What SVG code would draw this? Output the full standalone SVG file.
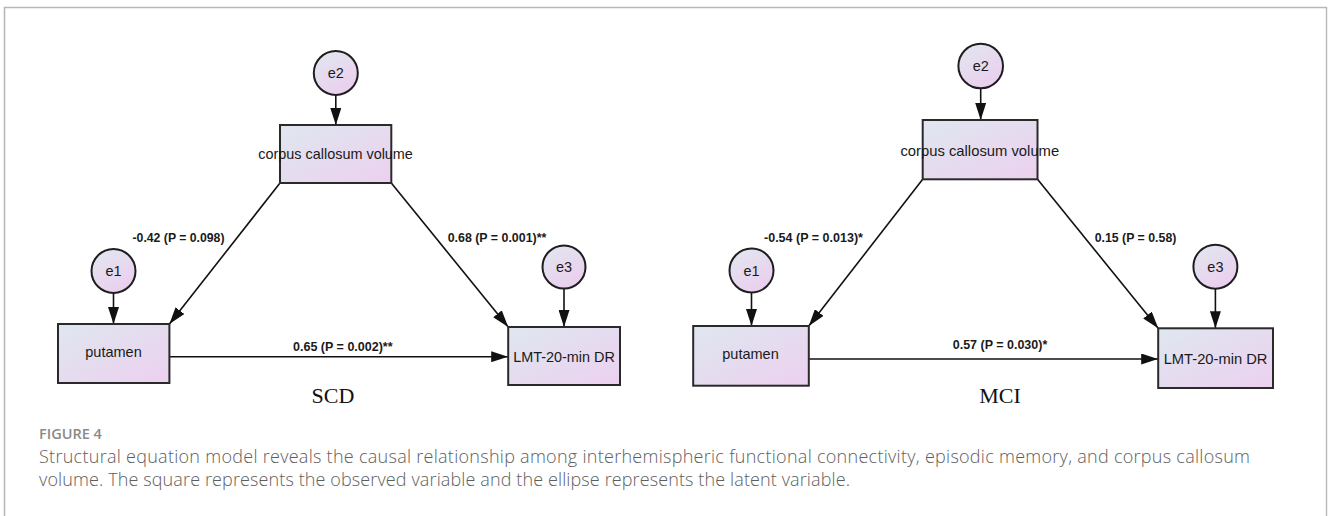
<svg xmlns="http://www.w3.org/2000/svg" width="1328" height="516" viewBox="0 0 1328 516">
  <defs>
    <linearGradient id="fillBox" x1="0" y1="0" x2="1" y2="1">
      <stop offset="0" stop-color="#dfe7ef"/>
      <stop offset="1" stop-color="#ecd0ef"/>
    </linearGradient>
    <linearGradient id="fillCircle" x1="0.2" y1="0" x2="0.8" y2="1">
      <stop offset="0" stop-color="#e2e6ef"/>
      <stop offset="1" stop-color="#ebcdee"/>
    </linearGradient>
    <marker id="arrow" viewBox="0 0 17 11" refX="17" refY="5.5" markerWidth="17" markerHeight="11" markerUnits="userSpaceOnUse" orient="auto">
      <path d="M0,0 L17,5.5 L0,11 Z" fill="#111"/>
    </marker>
    <style>
      .box { fill: url(#fillBox); stroke: #2a2a2a; stroke-width: 2; }
      .err { fill: url(#fillCircle); stroke: #1e1e1e; stroke-width: 2; }
      .node-text { font-family: "Liberation Sans", Arial, sans-serif; font-size: 14.5px; fill: #1a1a1a; text-anchor: middle; }
      .coef { font-family: "Liberation Sans", Arial, sans-serif; font-size: 12.5px; font-weight: bold; fill: #1a1a1a; text-anchor: middle; }
      .group-title { font-family: "Liberation Serif", "Times New Roman", serif; font-size: 22px; fill: #111; text-anchor: middle; }
      .path-line { stroke: #111; stroke-width: 1.6; fill: none; marker-end: url(#arrow); }
      .frame { stroke: #b8b8b8; fill: none; }
      .fig-label { font-family: "Open Sans", "Noto Sans", sans-serif; font-size: 14.5px; font-weight: 600; fill: #8a8a8a; }
      .caption { font-family: "Open Sans", "Noto Sans", sans-serif; font-size: 18px; font-weight: 300; fill: #5e5e5e; }
    </style>
  </defs>

  <rect width="1328" height="516" fill="#fff"/>

  <!-- figure frame: open at the bottom -->
  <g id="frame">
    <line class="frame" x1="4" y1="7.5" x2="1327" y2="7.5" stroke-width="1.6"/>
    <line class="frame" x1="4.5" y1="7" x2="4.5" y2="516" stroke-width="1.6" stroke="#a8a8a8"/>
    <line class="frame" x1="1326.5" y1="7" x2="1326.5" y2="516" stroke-width="1.4"/>
  </g>

  <!-- path connectors -->
  <g id="connectors">
    <!-- SCD model -->
    <line class="path-line" x1="335.8" y1="95" x2="335.8" y2="125"/>
    <line class="path-line" x1="113.5" y1="293" x2="113.5" y2="324"/>
    <line class="path-line" x1="564" y1="289" x2="564" y2="327"/>
    <line class="path-line" x1="280" y1="183" x2="169.4" y2="324"/>
    <line class="path-line" x1="391.3" y1="183" x2="508.2" y2="327"/>
    <line class="path-line" x1="169.4" y1="356.7" x2="508.2" y2="356.7"/>
    <!-- MCI model -->
    <line class="path-line" x1="980.7" y1="88.3" x2="980.7" y2="120"/>
    <line class="path-line" x1="751.5" y1="292.7" x2="751.5" y2="326"/>
    <line class="path-line" x1="1215.4" y1="289" x2="1215.4" y2="328.3"/>
    <line class="path-line" x1="922.7" y1="179.3" x2="808.8" y2="326"/>
    <line class="path-line" x1="1037.5" y1="179.3" x2="1158.2" y2="328.3"/>
    <line class="path-line" x1="808.8" y1="359" x2="1158.2" y2="359"/>
  </g>

  <!-- path coefficients -->
  <g id="coefficients">
    <text class="coef" x="178.5" y="242" textLength="92" lengthAdjust="spacingAndGlyphs">-0.42 (P = 0.098)</text>
    <text class="coef" x="497" y="242" textLength="98.7" lengthAdjust="spacingAndGlyphs">0.68 (P = 0.001)**</text>
    <text class="coef" x="342.8" y="351" textLength="99.6" lengthAdjust="spacingAndGlyphs">0.65 (P = 0.002)**</text>
    <text class="coef" x="813.5" y="242" textLength="99" lengthAdjust="spacingAndGlyphs">-0.54 (P = 0.013)*</text>
    <text class="coef" x="1135.5" y="242" textLength="81.7" lengthAdjust="spacingAndGlyphs">0.15 (P = 0.58)</text>
    <text class="coef" x="1000" y="349" textLength="94.5" lengthAdjust="spacingAndGlyphs">0.57 (P = 0.030)*</text>
  </g>

  <!-- SCD model nodes -->
  <g id="scd-e2">
    <circle class="err" cx="335.8" cy="73" r="22"/>
    <text class="node-text" x="335.8" y="78">e2</text>
  </g>
  <g id="scd-corpus-callosum">
    <rect class="box" x="280" y="125" width="111.3" height="58"/>
    <text class="node-text" x="335.6" y="159" textLength="154.6" lengthAdjust="spacingAndGlyphs">corpus callosum volume</text>
  </g>
  <g id="scd-e1">
    <circle class="err" cx="113.5" cy="271" r="22"/>
    <text class="node-text" x="113.5" y="276">e1</text>
  </g>
  <g id="scd-putamen">
    <rect class="box" x="58" y="324" width="111.4" height="59"/>
    <text class="node-text" x="113.5" y="357">putamen</text>
  </g>
  <g id="scd-e3">
    <circle class="err" cx="564" cy="267" r="21.5"/>
    <text class="node-text" x="564" y="272">e3</text>
  </g>
  <g id="scd-lmt">
    <rect class="box" x="508.2" y="327" width="111.8" height="58"/>
    <text class="node-text" x="564" y="362" textLength="101.7" lengthAdjust="spacingAndGlyphs">LMT-20-min DR</text>
  </g>
  <text class="group-title" x="333" y="403">SCD</text>

  <!-- MCI model nodes -->
  <g id="mci-e2">
    <circle class="err" cx="980.7" cy="66" r="22.3"/>
    <text class="node-text" x="980.7" y="71">e2</text>
  </g>
  <g id="mci-corpus-callosum">
    <rect class="box" x="922.7" y="120" width="114.8" height="59.3"/>
    <text class="node-text" x="979.8" y="156" textLength="158.8" lengthAdjust="spacingAndGlyphs">corpus callosum volume</text>
  </g>
  <g id="mci-e1">
    <circle class="err" cx="751.5" cy="270.5" r="22"/>
    <text class="node-text" x="751.5" y="276">e1</text>
  </g>
  <g id="mci-putamen">
    <rect class="box" x="693.2" y="326" width="115.6" height="59.7"/>
    <text class="node-text" x="750.5" y="359">putamen</text>
  </g>
  <g id="mci-e3">
    <circle class="err" cx="1215.4" cy="266.7" r="22"/>
    <text class="node-text" x="1215.4" y="271.5">e3</text>
  </g>
  <g id="mci-lmt">
    <rect class="box" x="1158.2" y="328.3" width="114.8" height="59.7"/>
    <text class="node-text" x="1215.6" y="364" textLength="103.8" lengthAdjust="spacingAndGlyphs">LMT-20-min DR</text>
  </g>
  <text class="group-title" x="1000" y="403">MCI</text>

  <!-- caption -->
  <g id="caption">
    <text class="fig-label" x="39" y="439">FIGURE 4</text>
    <text class="caption" x="39" y="463" textLength="1211">Structural equation model reveals the causal relationship among interhemispheric functional connectivity, episodic memory, and corpus callosum</text>
    <text class="caption" x="39" y="486" textLength="811">volume. The square represents the observed variable and the ellipse represents the latent variable.</text>
  </g>
</svg>
